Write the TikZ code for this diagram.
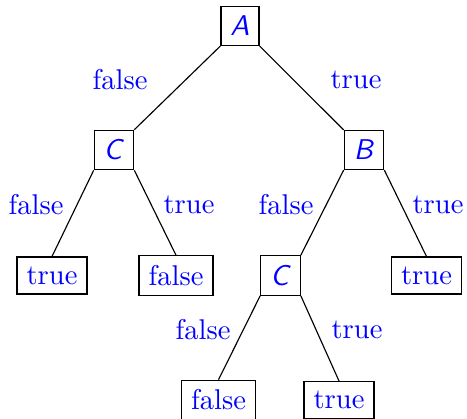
\documentclass[tikz,border=0pt]{standalone}
\usepackage{tikz}
\usetikzlibrary{positioning}

\begin{document}
\begin{tikzpicture}[x=0.35pt, y=-0.35pt,
    box/.style={draw, text=blue},
    lbl/.style={text=blue}]
    \useasboundingbox (0,0) rectangle (467,418);

    % Knoten
    \node[box] (A)  at (240,26)    {\textsf{\textit{A}}};
    \node[box] (C1) at (114,150)   {\textsf{\textit{C}}};
    \node[box] (B)  at (364,150)   {\textsf{\textit{B}}};
    \node[box] (T1) at (52,275.5)  {true};
    \node[box] (F1) at (176,275.5) {false};
    \node[box] (C2) at (280.5,275.5) {\textsf{\textit{C}}};
    \node[box] (T2) at (426.5,275.5) {true};
    \node[box] (F2) at (218.5,400) {false};
    \node[box] (T3) at (339,400)   {true};

    % Kanten
    \draw (A.south west) -- (C1.north east);
    \draw (A.south east) -- (B.north west);
    \draw (C1.south west) -- (T1.north);
    \draw (C1.south east) -- (F1.north);
    \draw (B.south west) -- (C2.north east);
    \draw (B.south east) -- (T2.north);
    \draw (C2.south west) -- (F2.north);
    \draw (C2.south east) -- (T3.north);

    % Beschriftungen
    \node[lbl] (lAC1) at (120,80)  {false};
    \node[lbl] (lAB)  at (356,80)  {true};
    \node[lbl] (lC1T) at (36,205)  {false};
    \node[lbl] (lC1F) at (189,205) {true};
    \node[lbl] (lBC2) at (286,205) {false};
    \node[lbl] (lBT)  at (438,205) {true};
    \node[lbl] (lC2F) at (203,330) {false};
    \node[lbl] (lC2T) at (357,330) {true};
\end{tikzpicture}
\end{document}
